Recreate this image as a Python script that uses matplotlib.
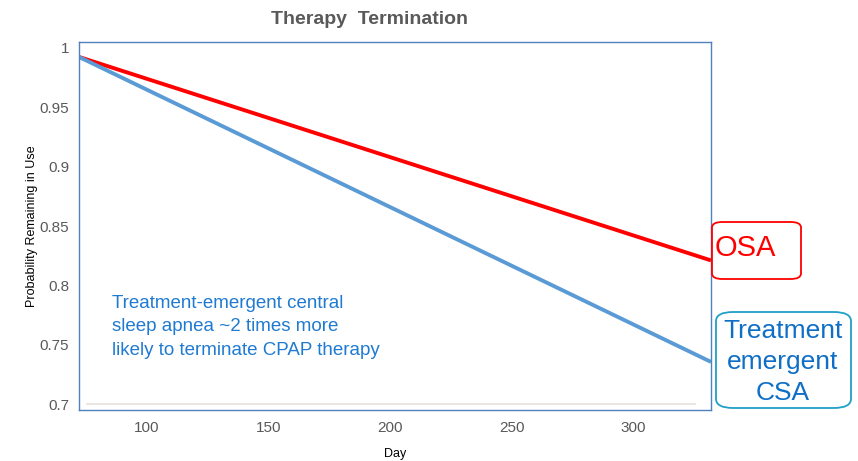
import matplotlib
matplotlib.use("Agg")
import matplotlib.pyplot as plt
from matplotlib.patches import FancyBboxPatch

plt.rcParams['font.family'] = ['Liberation Sans', 'DejaVu Sans']

# dados (retas de sobrevida)
dias = [72, 332]
osa = [0.9924, 0.821]
csa = [0.9924, 0.7355]
yticks = [0.7, 0.75, 0.8, 0.85, 0.9, 0.95, 1]
ytick_labels = ["0.7", "0.75", "0.8", "0.85", "0.9", "0.95", "1"]
xticks = [100, 150, 200, 250, 300]

fig = plt.figure(figsize=(8.58, 4.61), dpi=100)
ax = fig.add_axes([0.0921, 0.1106, 0.7366, 0.7983])

ax.plot(dias, osa, color="#FF0000", lw=2.8, solid_capstyle="butt")
ax.plot(dias, csa, color="#5B9BD5", lw=2.8, solid_capstyle="butt")
ax.axhline(0.7, xmin=0.013, xmax=0.975, color="#E6E0DA", lw=1.2, zorder=0)

ax.set_xlim(72, 332)
ax.set_ylim(0.695, 1.005)
ax.set_yticks(yticks)
ax.set_yticklabels(ytick_labels)
ax.set_xticks(xticks)
ax.tick_params(length=0, labelsize=11, labelcolor="#595959")
ax.tick_params(axis="y", pad=7)
ax.tick_params(axis="x", pad=8)
for s in ax.spines.values():
    s.set_color("#4F81BD")
    s.set_linewidth(1)

ax.set_xlabel("Day", fontsize=9, labelpad=9)
ax.set_ylabel("Probability Remaining in Use", fontsize=9, labelpad=1)
fig.text(0.431, 0.958, "Therapy  Termination", ha="center", va="center",
         fontsize=14, fontweight="bold", color="#595959")

ax.text(0.052, 0.313, "Treatment-emergent central\nsleep apnea ~2 times more\nlikely to terminate CPAP therapy",
        transform=ax.transAxes, fontsize=13.5, color="#1F7AD1", va="top", ha="left", linespacing=1.5)

# caixas de rótulo
b1 = FancyBboxPatch((712 / 858, 1 - 279 / 461), 89 / 858, 57 / 461,
                    boxstyle="round,pad=0,rounding_size=0.012", transform=fig.transFigure,
                    fc="white", ec="#FF0000", lw=1.3)
fig.patches.append(b1)
fig.text(745 / 858, 1 - 248 / 461, "OSA", color="#FF0000", fontsize=21, ha="center", va="center")

b2 = FancyBboxPatch((716 / 858, 1 - 408 / 461), 135 / 858, 96 / 461,
                    boxstyle="round,pad=0,rounding_size=0.02", transform=fig.transFigure,
                    fc="white", ec="#1FA0C8", lw=1.3)
fig.patches.append(b2)
fig.text(783 / 858, 1 - 362 / 461, "Treatment\nemergent\nCSA", color="#0F6FC6", fontsize=19,
         ha="center", va="center", linespacing=1.36)

fig.savefig("out.png", dpi=100)
